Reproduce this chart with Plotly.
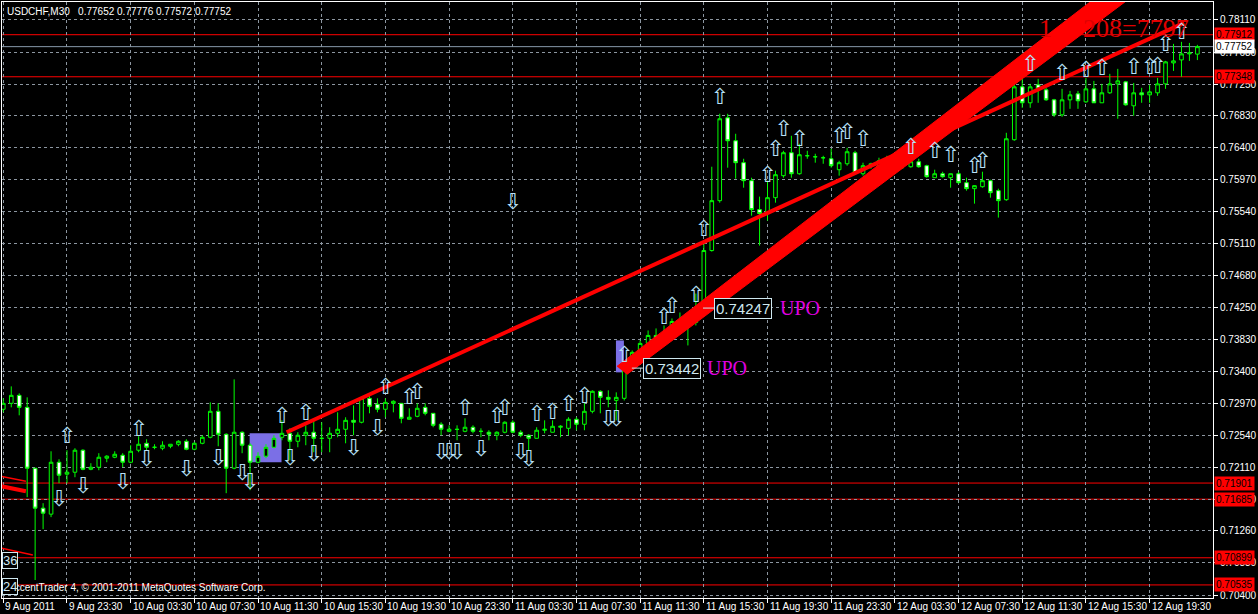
import plotly.graph_objects as go

# ---------------- data (USDCHF M30) ----------------
bar_index = list(range(151))
opens = [0.72890,0.72970,0.73077,0.72916,0.72100,0.71564,0.71484,0.72180,0.72020,0.72046,
         0.72341,0.72086,0.72113,0.72234,0.72247,0.72274,0.72180,0.72341,0.72434,0.72381,
         0.72368,0.72394,0.72421,0.72461,0.72354,0.72434,0.72515,0.72863,0.72555,0.72100,
         0.72582,0.72408,0.72180,0.72261,0.72381,0.72515,0.72568,0.72461,0.72542,0.72582,
         0.72501,0.72501,0.72568,0.72622,0.72742,0.72716,0.73037,0.72957,0.72890,0.72970,
         0.72970,0.72756,0.72796,0.72916,0.72836,0.72689,0.72595,0.72622,0.72595,0.72649,
         0.72595,0.72582,0.72542,0.72582,0.72716,0.72582,0.72542,0.72501,0.72609,0.72582,
         0.72649,0.72635,0.72756,0.72689,0.72863,0.73131,0.73050,0.73010,0.73037,0.73438,
         0.73639,0.73773,0.73880,0.73827,0.73920,0.74067,0.74067,0.74054,0.74241,0.75018,
         0.75687,0.76798,0.76490,0.76196,0.75955,0.75567,0.75513,0.75727,0.76022,0.76330,
         0.76048,0.76289,0.76276,0.76263,0.76249,0.76102,0.76182,0.76330,0.76048,0.76156,
         0.76156,0.76196,0.76249,0.76249,0.76142,0.76209,0.76156,0.75995,0.76048,0.75995,
         0.76048,0.75928,0.75848,0.75874,0.75955,0.75821,0.75700,0.76504,0.77213,0.76999,
         0.77240,0.77173,0.77039,0.76838,0.77039,0.77119,0.77012,0.77186,0.76999,0.77133,
         0.77253,0.77280,0.76959,0.77133,0.77106,0.77133,0.77253,0.77534,0.77574,0.77655,
         0.77652]
highs = [0.73037,0.73197,0.73104,0.73050,0.72102,0.71631,0.72327,0.72220,0.72341,0.72368,
         0.72354,0.72167,0.72301,0.72274,0.72327,0.72301,0.72408,0.72528,0.72488,0.72421,
         0.72461,0.72421,0.72475,0.72488,0.72448,0.72542,0.72983,0.72970,0.72568,0.73291,
         0.72595,0.72434,0.72314,0.72421,0.72542,0.72742,0.72635,0.72582,0.72675,0.72742,
         0.72716,0.72649,0.72849,0.72783,0.72943,0.73050,0.73077,0.73037,0.73037,0.73010,
         0.72972,0.72903,0.72970,0.72970,0.72838,0.72716,0.72675,0.72675,0.72769,0.72675,
         0.72635,0.72609,0.72595,0.72729,0.72742,0.72609,0.72555,0.72649,0.72742,0.72742,
         0.72675,0.72783,0.72783,0.72970,0.73144,0.73144,0.73144,0.73117,0.73465,0.73679,
         0.73813,0.73947,0.73974,0.74014,0.74108,0.74188,0.74188,0.74442,0.75111,0.76142,
         0.76852,0.76852,0.76584,0.76249,0.75995,0.75741,0.75955,0.76089,0.76356,0.76557,
         0.76450,0.76356,0.76316,0.76289,0.76383,0.76222,0.76396,0.76356,0.76196,0.76196,
         0.76263,0.76289,0.76263,0.76263,0.76236,0.76249,0.76169,0.76102,0.76075,0.76050,
         0.76075,0.75995,0.75890,0.76075,0.75968,0.75848,0.76597,0.77253,0.77655,0.77253,
         0.77320,0.77200,0.77052,0.77186,0.77159,0.77159,0.77333,0.77293,0.77253,0.77387,
         0.77454,0.77293,0.77266,0.77200,0.77240,0.77333,0.77561,0.77789,0.77816,0.77802,
         0.77776]
lows = [0.72849,0.72916,0.72809,0.71712,0.70601,0.71283,0.71444,0.71899,0.71899,0.71979,
        0.72073,0.72073,0.72073,0.72180,0.72234,0.72113,0.72167,0.72314,0.72341,0.72354,
        0.72341,0.72368,0.72394,0.72341,0.72341,0.72421,0.72501,0.72394,0.71765,0.72086,
        0.72301,0.71805,0.72167,0.72234,0.72368,0.72475,0.72207,0.72381,0.72408,0.72314,
        0.72314,0.72314,0.72515,0.72434,0.72542,0.72702,0.72836,0.72849,0.72783,0.72849,
        0.72702,0.72754,0.72783,0.72809,0.72649,0.72542,0.72582,0.72475,0.72582,0.72568,
        0.72515,0.72475,0.72475,0.72568,0.72568,0.72515,0.72341,0.72500,0.72568,0.72580,
        0.72515,0.72542,0.72609,0.72609,0.72836,0.72836,0.72916,0.72742,0.73008,0.73412,
        0.73612,0.73746,0.73746,0.73786,0.73894,0.73974,0.73746,0.74014,0.74215,0.75004,
        0.75660,0.76129,0.75982,0.75861,0.75486,0.75085,0.75419,0.75660,0.75995,0.75995,
        0.76035,0.76249,0.76196,0.76182,0.76129,0.76022,0.76156,0.76048,0.76022,0.76115,
        0.76129,0.76182,0.76196,0.76115,0.76129,0.76129,0.75995,0.75993,0.75995,0.75861,
        0.75915,0.75821,0.75647,0.75861,0.75727,0.75460,0.75685,0.76490,0.76932,0.76932,
        0.76999,0.77026,0.76811,0.76811,0.76918,0.76918,0.76999,0.76997,0.76997,0.77119,
        0.76785,0.76959,0.76825,0.76999,0.76999,0.77093,0.77186,0.77427,0.77347,0.77561,
        0.77572]
closes = [0.72970,0.73077,0.72916,0.72100,0.71564,0.71497,0.72180,0.72006,0.72046,0.72341,
          0.72086,0.72113,0.72247,0.72261,0.72287,0.72180,0.72327,0.72421,0.72381,0.72380,
          0.72408,0.72421,0.72461,0.72354,0.72434,0.72515,0.72863,0.72555,0.72100,0.72582,
          0.72408,0.72180,0.72261,0.72381,0.72501,0.72568,0.72461,0.72542,0.72582,0.72501,
          0.72500,0.72568,0.72622,0.72742,0.72716,0.73037,0.72930,0.72890,0.72983,0.72997,
          0.72769,0.72783,0.72903,0.72836,0.72675,0.72622,0.72622,0.72620,0.72649,0.72595,
          0.72594,0.72555,0.72582,0.72716,0.72582,0.72542,0.72501,0.72609,0.72622,0.72662,
          0.72662,0.72756,0.72689,0.72863,0.73131,0.73050,0.73023,0.73050,0.73438,0.73653,
          0.73773,0.73880,0.73827,0.73920,0.74067,0.74066,0.74068,0.74241,0.75018,0.75687,
          0.76785,0.76490,0.76196,0.75955,0.75567,0.75513,0.75727,0.76035,0.76330,0.76048,
          0.76303,0.76290,0.76275,0.76262,0.76156,0.76196,0.76343,0.76062,0.76156,0.76182,
          0.76222,0.76249,0.76248,0.76169,0.76209,0.76142,0.76008,0.76048,0.76008,0.76048,
          0.75928,0.75848,0.75888,0.75955,0.75794,0.75687,0.76517,0.77213,0.76999,0.77213,
          0.77186,0.77039,0.76838,0.77039,0.77106,0.77026,0.77186,0.76999,0.77133,0.77253,
          0.77293,0.76972,0.77133,0.77106,0.77146,0.77253,0.77548,0.77561,0.77655,0.77668,
          0.77752]

up_idx = [8,17,35,38,48,51,52,58,62,63,67,69,71,73,78,83,84,87,88,90,
          96,97,98,100,105,106,108,114,117,119,122,123,129,133,136,138,142,144,145,146,148]
up_price = [0.72515,0.72609,0.72783,0.72823,0.73171,0.73037,0.73104,0.72890,0.72783,0.72890,
            0.72809,0.72836,0.72943,0.73050,0.73599,0.74108,0.74255,0.74402,0.75286,0.77052,
            0.76008,0.76356,0.76624,0.76490,0.76530,0.76584,0.76490,0.76383,0.76330,0.76276,
            0.76129,0.76196,0.77494,0.77374,0.77414,0.77440,0.77454,0.77454,0.77467,0.77762,0.77922]
down_idx = [7,10,15,18,23,27,30,31,36,39,44,47,55,56,57,60,64,65,66,76,77]
down_price = [0.71672,0.71846,0.71899,0.72207,0.72073,0.72220,0.72020,0.71899,0.72220,0.72274,
              0.72354,0.72622,0.72301,0.72301,0.72301,0.72341,0.75647,0.72301,0.72207,0.72742,0.72742]

time_tick_idx = [0,8,16,24,32,40,48,56,64,72,80,88,96,104,112,120,128,136,144]
time_tick_text = ["9 Aug 2011","9 Aug 23:30","10 Aug 03:30","10 Aug 07:30","10 Aug 11:30",
                  "10 Aug 15:30","10 Aug 19:30","10 Aug 23:30","11 Aug 03:30","11 Aug 07:30",
                  "11 Aug 11:30","11 Aug 15:30","11 Aug 19:30","11 Aug 23:30","12 Aug 03:30",
                  "12 Aug 07:30","12 Aug 11:30","12 Aug 15:30","12 Aug 19:30"]
price_tick_vals = [0.78110,0.77680,0.77250,0.76830,0.76400,0.75970,0.75540,0.75110,0.74680,0.74250,
                   0.73830,0.73400,0.72970,0.72540,0.72110,0.71680,0.71260,0.70830,0.70400]
price_tick_text = ["%.5f" % v for v in price_tick_vals]

red_levels = [0.77912, 0.77348, 0.71901, 0.71685, 0.70899, 0.70535]
bid_level = 0.77752

# trend objects (anchor points)
thin_line_x = [35.59, 148.34]
thin_line_y = [0.72582, 0.78070]
band_x = [77.09, 137.5, 141.9, 78.34]
band_y = [0.73465, 0.78431, 0.78431, 0.73358]
frag1_x, frag1_y = [-0.3, 2.84], [0.71993, 0.71926]
frag2_x, frag2_y = [-0.3, 2.84], [0.71859, 0.71792]
frag3_x, frag3_y = [-0.3, 3.71], [0.71029, 0.70935]
boxes = [(30.95, 34.95, 0.72568, 0.72180), (76.96, 77.96, 0.73813, 0.73385)]

GRID = "#8c96a0"
FONT = "Liberation Sans"
ARROW = "#b8e0f8"

fig = go.Figure()

fig.add_trace(go.Scatter(x=band_x, y=band_y, fill="toself", fillcolor="#ff0000",
                         line=dict(color="#ff0000", width=1), mode="lines", hoverinfo="skip"))
fig.add_trace(go.Scatter(x=thin_line_x, y=thin_line_y, mode="lines",
                         line=dict(color="#ff0000", width=4), hoverinfo="skip"))
for fx, fy, w in [(frag1_x, frag1_y, 1.5), (frag2_x, frag2_y, 4), (frag3_x, frag3_y, 1.5)]:
    fig.add_trace(go.Scatter(x=fx, y=fy, mode="lines", line=dict(color="#ff0000", width=w),
                             hoverinfo="skip"))

fig.add_trace(go.Scatter(x=[87.9, 89.34], y=[0.74247, 0.74247], mode="lines",
                         line=dict(color="#cfe8f0", width=1), hoverinfo="skip"))
fig.add_trace(go.Scatter(x=[78.96, 80.34], y=[0.73442, 0.73442], mode="lines",
                         line=dict(color="#cfe8f0", width=1), hoverinfo="skip"))

fig.add_trace(go.Candlestick(
    x=bar_index, open=opens, high=highs, low=lows, close=closes,
    increasing=dict(line=dict(color="#00ff00", width=1), fillcolor="#000000"),
    decreasing=dict(line=dict(color="#00ff00", width=1), fillcolor="#ffffff"),
    whiskerwidth=0, hoverinfo="skip"))

fig.add_trace(go.Scatter(x=up_idx, y=up_price, mode="text", text=["\u21e7"] * len(up_idx),
                         textfont=dict(family="DejaVu Sans", size=22, color=ARROW),
                         textposition="middle center", hoverinfo="skip"))
fig.add_trace(go.Scatter(x=down_idx, y=down_price, mode="text", text=["\u21e9"] * len(down_idx),
                         textfont=dict(family="DejaVu Sans", size=22, color=ARROW),
                         textposition="middle center", hoverinfo="skip"))

shapes = []
for x0, x1, y0, y1 in boxes:
    shapes.append(dict(type="rect", xref="x", yref="y", x0=x0, x1=x1, y0=y0, y1=y1,
                       fillcolor="#7b6fe6", line=dict(width=0), layer="between"))
for lv in red_levels:
    shapes.append(dict(type="line", xref="paper", x0=0, x1=1, yref="y", y0=lv, y1=lv,
                       line=dict(color="#ff0000", width=1), layer="between"))
shapes.append(dict(type="line", xref="paper", x0=0, x1=1, yref="y", y0=bid_level, y1=bid_level,
                   line=dict(color="#8899aa", width=1), layer="between"))

annotations = []
for i, t in zip(time_tick_idx, time_tick_text):
    annotations.append(dict(x=i, xref="x", y=0, yref="paper", text=t, showarrow=False,
                            xanchor="left", yanchor="top", xshift=0, yshift=-1,
                            font=dict(family=FONT, size=10, color="white")))
for lv in red_levels:
    annotations.append(dict(x=1, xref="paper", y=lv, yref="y", text="%.5f" % lv, showarrow=False,
                            xanchor="left", yanchor="middle", xshift=1, bgcolor="#ff0000",
                            borderpad=1, font=dict(family=FONT, size=10, color="#000000")))
annotations.append(dict(x=1, xref="paper", y=bid_level, yref="y", text="%.5f" % bid_level,
                        showarrow=False, xanchor="left", yanchor="middle", xshift=1,
                        bgcolor="#ffffff", borderpad=1,
                        font=dict(family=FONT, size=10, color="#000000")))
annotations.append(dict(x=0, xref="paper", y=1, yref="paper", showarrow=False,
                        text="USDCHF,M30\u00a0\u00a0 0.77652 0.77776 0.77572 0.77752",
                        xanchor="left", yanchor="top", xshift=3, yshift=-2,
                        font=dict(family=FONT, size=10, color="white")))
annotations.append(dict(x=0, xref="paper", y=0.70507, yref="y", showarrow=False,
                        text="AccentTrader 4, \u00a9 2001-2011 MetaQuotes Software Corp.",
                        xanchor="left", yanchor="middle", xshift=4,
                        font=dict(family=FONT, size=10, color="white")))
for txt, yv in [("36", 0.70868), ("24", 0.70520)]:
    annotations.append(dict(x=0, xref="paper", y=yv, yref="y", text=txt, showarrow=False,
                            xanchor="left", yanchor="middle", xshift=0, bgcolor="#000000",
                            bordercolor="#cfe8f0", borderwidth=1, borderpad=0,
                            font=dict(family=FONT, size=13, color="#cfe8f0")))
for xv, yv, txt in [(89.34, 0.74247, "0.74247"), (80.34, 0.73442, "0.73442")]:
    annotations.append(dict(x=xv, xref="x", y=yv, yref="y", text=txt, showarrow=False,
                            xanchor="left", yanchor="middle", bgcolor="#000000",
                            bordercolor="#cfe8f0", borderwidth=1, borderpad=1,
                            font=dict(family=FONT, size=15, color="#cfe8f0")))
for xv, yv in [(97.3, 0.74247), (88.2, 0.73442)]:
    annotations.append(dict(x=xv, xref="x", y=yv, yref="y", text="UPO", showarrow=False,
                            xanchor="left", yanchor="middle",
                            font=dict(family="Liberation Serif", size=20, color="#e000e0")))
annotations.append(dict(x=129.9, xref="x", y=0.77989, yref="y", text="1", showarrow=False,
                        xanchor="left", yanchor="middle",
                        font=dict(family="Liberation Serif", size=26, color="#e00000")))
annotations.append(dict(x=135.4, xref="x", y=0.77989, yref="y", text="208=7797", showarrow=False,
                        xanchor="left", yanchor="middle",
                        font=dict(family="Liberation Serif", size=26, color="#e00000")))

fig.update_layout(
    width=1258, height=614,
    margin=dict(l=2, r=39, t=1, b=16),
    paper_bgcolor="#000000", plot_bgcolor="#000000",
    showlegend=False, boxgap=0.35,
    shapes=shapes, annotations=annotations,
    xaxis=dict(range=[-0.1625, 151.9625], tickvals=time_tick_idx, showticklabels=False,
               ticks="outside", ticklen=4, tickcolor="white",
               showgrid=True, gridcolor=GRID, griddash="3px,3px", gridwidth=1,
               showline=True, linecolor="white", linewidth=1, mirror=True,
               zeroline=False, rangeslider=dict(visible=False), fixedrange=True),
    yaxis=dict(range=[0.703598, 0.783506], side="right", tickvals=price_tick_vals,
               ticktext=price_tick_text, tickfont=dict(family=FONT, size=10, color="white"),
               ticks="outside", ticklen=4, tickcolor="white",
               showgrid=True, gridcolor=GRID, griddash="3px,3px", gridwidth=1,
               showline=True, linecolor="white", linewidth=1, mirror=True,
               zeroline=False, fixedrange=True),
)

fig.write_html("out.html",
               config={"displayModeBar": False, "staticPlot": True},
               post_script="document.body.style.margin='0';document.body.style.overflow='hidden';")
